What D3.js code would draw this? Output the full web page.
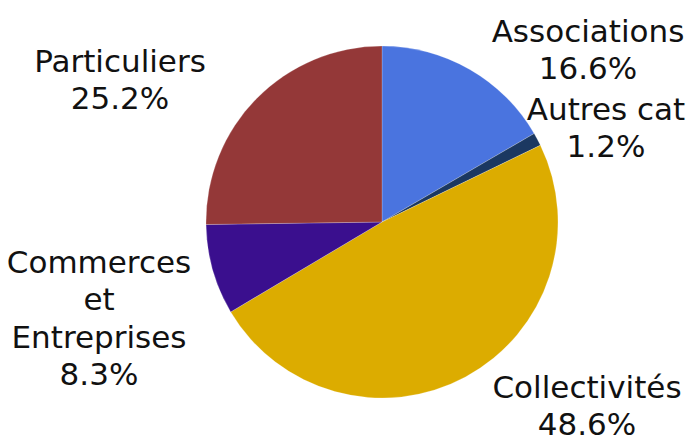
<!DOCTYPE html>
<html>
<head>
<meta charset="utf-8">
<script src="https://cdn.jsdelivr.net/npm/d3@7"></script>
<style>
html,body{margin:0;padding:0;background:#fff;}
svg{display:block;}
text{font-family:"DejaVu Sans",sans-serif;fill:#111;}
</style>
</head>
<body>
<svg id="chart" width="689" height="436"></svg>
<script>
const categories = ["Associations", "Autres cat", "Collectivités", "Commerces et Entreprises", "Particuliers"];
const labelLines = [["Associations"], ["Autres cat"], ["Collectivités"], ["Commerces", "et", "Entreprises"], ["Particuliers"]];
const values = [16.6, 1.2, 48.6, 8.3, 25.2];
const colors = ["#4a74df", "#1b3861", "#dcac00", "#3a0f8e", "#943838"];

// label anchor positions (layout only): center x, first baseline y
const labelPos = [[588, 42], [606, 120], [587, 398], [99, 273], [120, 72]];

const W = 689, H = 436;
const cx = 382, cy = 222, R = 176;
const svg = d3.select("#chart");
const g = svg.append("g").attr("transform", `translate(${cx},${cy})`);

const pie = d3.pie().sort(null).value(d => d.v);
const data = categories.map((c, i) => ({c, v: values[i], i}));
const arcs = pie(data);
const arc = d3.arc().innerRadius(0).outerRadius(R);

g.selectAll("path").data(arcs).join("path")
  .attr("d", arc)
  .attr("fill", d => colors[d.data.i])
  .attr("stroke", "rgba(255,255,255,0.35)")
  .attr("stroke-width", 0.6);

const fs = 31, lh = 37.3;
arcs.forEach(d => {
  const i = d.data.i;
  const lines = labelLines[i].concat([d3.format(".1f")(values[i]) + "%"]);
  const t = svg.append("text")
    .attr("text-anchor", "middle")
    .attr("font-size", fs);
  lines.forEach((ln, k) => {
    t.append("tspan").attr("x", labelPos[i][0]).attr("y", labelPos[i][1] + k * lh).text(ln);
  });
});
</script>
</body>
</html>
